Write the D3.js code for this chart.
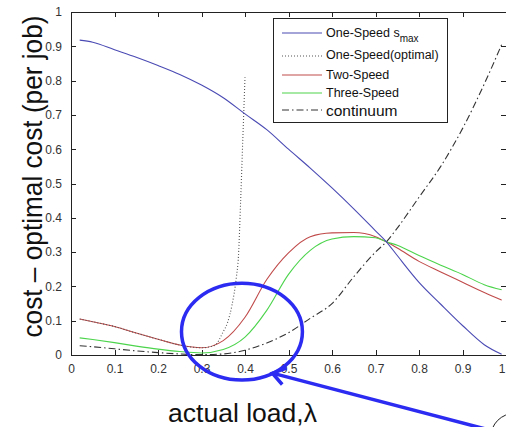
<!DOCTYPE html>
<html>
<head>
<meta charset="utf-8">
<script src="https://cdn.jsdelivr.net/npm/d3@7"></script>
<style>
  body { margin: 0; background: #fff; }
  text { font-family: "Liberation Sans", Arial, sans-serif; }
</style>
</head>
<body>
<div id="chart"></div>
<script>
var width = 506
var height = 427
var padding = { top: 12, right: 0, bottom: 72, left: 71 };

// load values shared by most curves
var load = [0.02, 0.05, 0.1, 0.15, 0.2, 0.25, 0.3, 0.35, 0.4, 0.45, 0.5, 0.55,
            0.6, 0.65, 0.7, 0.725, 0.75, 0.8, 0.85, 0.9, 0.95, 0.99];
var oneSpeedMax = [0.918, 0.912, 0.89, 0.868, 0.844, 0.818, 0.787, 0.75, 0.703, 0.657, 0.60, 0.545,
                   0.487, 0.426, 0.362, 0.33, 0.29, 0.212, 0.148, 0.086, 0.03, 0.002];
var twoSpeed = [0.105, 0.097, 0.083, 0.064, 0.046, 0.029, 0.021, 0.042, 0.11, 0.22, 0.298, 0.345,
                0.356, 0.357, 0.345, 0.33, 0.312, 0.273, 0.242, 0.212, 0.182, 0.16];
var threeSpeed = [0.05, 0.045, 0.036, 0.026, 0.017, 0.01, 0.006, 0.016, 0.052, 0.13, 0.235, 0.305,
                  0.338, 0.345, 0.342, 0.33, 0.32, 0.29, 0.262, 0.235, 0.205, 0.19];
var continuum = [0.027, 0.024, 0.018, 0.012, 0.007, 0.003, 0.001, 0.003, 0.014, 0.035, 0.065, 0.107,
                 0.15, 0.228, 0.30, 0.33, 0.37, 0.46, 0.55, 0.66, 0.79, 0.905];

// one-speed optimal stops near 0.4, so it has its own load values
var loadOpt = [0.02, 0.05, 0.1, 0.15, 0.2, 0.25, 0.3, 0.33, 0.35, 0.36, 0.37, 0.38, 0.385, 0.39, 0.395, 0.4];
var oneSpeedOpt = [0.105, 0.097, 0.083, 0.064, 0.046, 0.029, 0.021, 0.028, 0.068, 0.095, 0.145, 0.225,
                   0.29, 0.45, 0.63, 0.81];

var tickValues = [0, 0.1, 0.2, 0.3, 0.4, 0.5, 0.6, 0.7, 0.8, 0.9, 1];

var svg = d3.select('#chart')
    .append("svg")
    .attr('width', width)
    .attr('height', height);

var chartWidth = width - padding.left - padding.right;
var chartHeight = height - padding.top - padding.bottom;

var xScale = d3.scaleLinear().domain([0, 1]).range([padding.left, padding.left + chartWidth]);
var yScale = d3.scaleLinear().domain([0, 1]).range([padding.top + chartHeight, padding.top]);

var fmt = d3.format("~g");

function styleAxis(g) {
    g.selectAll("path, line").attr("stroke", "#222").attr("shape-rendering", "crispEdges");
    g.selectAll("text").attr("fill", "#333").style("font-size", "12px")
        .style("font-family", "'Liberation Sans', Arial, sans-serif");
}

var xAxisG = svg.append("g")
    .attr("transform", "translate(0," + yScale(0) + ")")
    .call(d3.axisBottom(xScale).tickValues(tickValues).tickSize(-5).tickSizeOuter(0)
        .tickPadding(9).tickFormat(fmt))
    .call(styleAxis);
// last label sits at the page edge, keep it inside
xAxisG.selectAll(".tick text").filter(function(d) { return d === 1; })
    .attr("text-anchor", "end").attr("dx", "-1");

svg.append("g")
    .attr("transform", "translate(0," + yScale(1) + ")")
    .call(d3.axisTop(xScale).tickValues(tickValues).tickSize(-5).tickSizeOuter(0).tickFormat(""))
    .call(styleAxis);
svg.append("g")
    .attr("transform", "translate(" + xScale(0) + ",0)")
    .call(d3.axisLeft(yScale).tickValues(tickValues).tickSize(-5).tickSizeOuter(0)
        .tickPadding(9).tickFormat(fmt))
    .call(styleAxis);
svg.append("g")
    .attr("transform", "translate(" + (xScale(1) - 0.5) + ",0)")
    .call(d3.axisRight(yScale).tickValues(tickValues).tickSize(-5).tickSizeOuter(0).tickFormat(""))
    .call(styleAxis);

var line = d3.line()
    .x(function(d) { return xScale(d[0]); })
    .y(function(d) { return yScale(d[1]); })
    .curve(d3.curveMonotoneX);

var series = [
    { name: "twoSpeed", xs: load, ys: twoSpeed, color: "#c04a4a", dash: null },
    { name: "threeSpeed", xs: load, ys: threeSpeed, color: "#4cd44c", dash: null },
    { name: "continuum", xs: load, ys: continuum, color: "#333", dash: "7,3,1.5,3" },
    { name: "oneSpeedOpt", xs: loadOpt, ys: oneSpeedOpt, color: "#555", dash: "1,2" },
    { name: "oneSpeedMax", xs: load, ys: oneSpeedMax, color: "#4a4ab4", dash: null }
];

svg.selectAll(".curve")
    .data(series)
    .enter().append("path")
    .attr("class", "curve")
    .attr("fill", "none")
    .attr("stroke", function(d) { return d.color; })
    .attr("stroke-width", 1.1)
    .attr("stroke-dasharray", function(d) { return d.dash; })
    .attr("d", function(d) { return line(d.xs.map(function(x, i) { return [x, d.ys[i]]; })); });

// legend
var legend = svg.append("g");
legend.append("rect")
    .attr("x", 273.5).attr("y", 18.5).attr("width", 174).attr("height", 104)
    .attr("fill", "#fff").attr("stroke", "#222");

var legendItems = [
    { label: "One-Speed s", sub: "max", color: "#4a4ab4", dash: null, lineY: 33, textY: 37, size: 12.5 },
    { label: "One-Speed(optimal)", color: "#555", dash: "1,2", lineY: 56, textY: 59, size: 12.5 },
    { label: "Two-Speed", color: "#c04a4a", dash: null, lineY: 75, textY: 79, size: 12.5 },
    { label: "Three-Speed", color: "#4cd44c", dash: null, lineY: 93, textY: 97, size: 12.5 },
    { label: "continuum", color: "#333", dash: "7,3,1.5,3", lineY: 110, textY: 115.5, size: 15.5 }
];

legendItems.forEach(function(item) {
    legend.append("line")
        .attr("x1", 282).attr("x2", 322)
        .attr("y1", item.lineY).attr("y2", item.lineY)
        .attr("stroke", item.color).attr("stroke-width", 1.1)
        .attr("stroke-dasharray", item.dash);
    var t = legend.append("text")
        .attr("x", 326).attr("y", item.textY)
        .attr("fill", "#111")
        .style("font-size", item.size + "px")
        .text(item.label);
    if (item.sub) {
        t.append("tspan").attr("dy", 5).style("font-size", "10px").text(item.sub);
    }
});

// axis labels
svg.append("text")
    .attr("transform", "translate(42," + 176.5 + ") rotate(-90)")
    .attr("text-anchor", "middle")
    .attr("textLength", 322)
    .attr("lengthAdjust", "spacingAndGlyphs")
    .attr("fill", "#111")
    .style("font-size", "28px")
    .text("cost \u2013 optimal cost (per job)");

svg.append("text")
    .attr("x", 168).attr("y", 422)
    .attr("textLength", 149)
    .attr("lengthAdjust", "spacingAndGlyphs")
    .attr("fill", "#111")
    .style("font-size", "26px")
    .text("actual load,\u03bb");

// annotation: circled region and arrow
var noteBlue = "#2b2bf2";
svg.append("ellipse")
    .attr("cx", xScale(0.393)).attr("cy", yScale(0.068))
    .attr("rx", xScale(0.139) - xScale(0)).attr("ry", yScale(0) - yScale(0.141))
    .attr("fill", "none").attr("stroke", noteBlue).attr("stroke-width", 3.5);

var tip = [xScale(0.463), yScale(-0.053)];
var tail = [xScale(0.963), yScale(-0.219)];
var back = Math.atan2(tail[1] - tip[1], tail[0] - tip[0]);
var arm = 15;
svg.append("line")
    .attr("x1", tail[0]).attr("y1", tail[1]).attr("x2", tip[0]).attr("y2", tip[1])
    .attr("stroke", noteBlue).attr("stroke-width", 3.5);
svg.append("path")
    .attr("d", "M" + (tip[0] + arm * Math.cos(back - 0.6)) + "," + (tip[1] + arm * Math.sin(back - 0.6)) +
        "L" + tip[0] + "," + tip[1] +
        "L" + (tip[0] + arm * Math.cos(back + 0.6)) + "," + (tip[1] + arm * Math.sin(back + 0.6)))
    .attr("fill", "none").attr("stroke", noteBlue).attr("stroke-width", 3.5)
    .attr("stroke-linejoin", "miter");

svg.append("circle")
    .attr("cx", xScale(1.02)).attr("cy", yScale(-0.24)).attr("r", 24)
    .attr("fill", "none").attr("stroke", "#222").attr("stroke-width", 1);
</script>
</body>
</html>
